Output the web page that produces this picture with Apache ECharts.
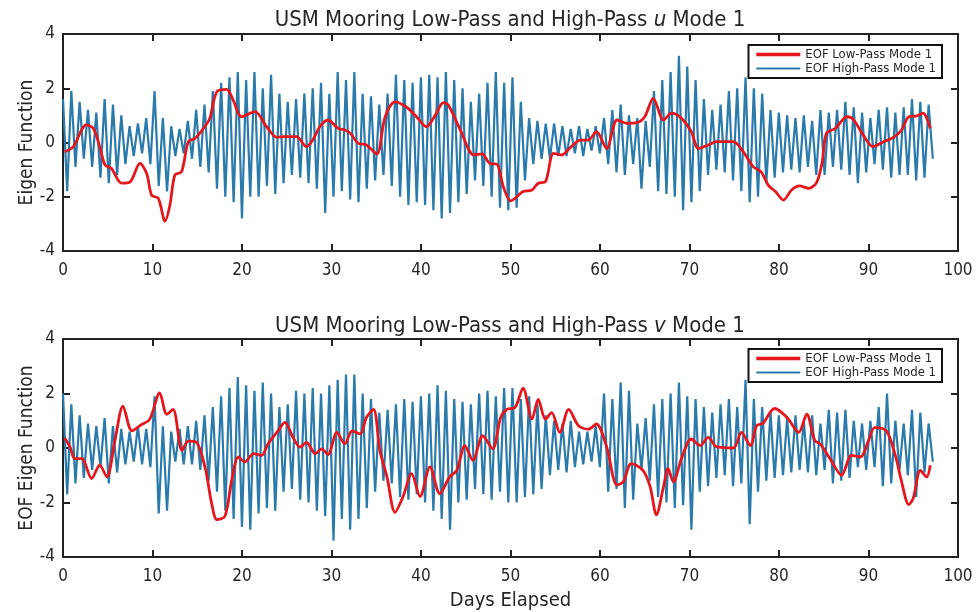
<!DOCTYPE html>
<html>
<head>
<meta charset="utf-8">
<script src="https://cdn.jsdelivr.net/npm/echarts/dist/echarts.min.js"></script>
<style>html,body{margin:0;padding:0;background:#fff}#c{width:976px;height:612px}</style>
</head>
<body>
<div id="c"></div>
<script>
// ---------- DATA ----------
const xTicks = [0,10,20,30,40,50,60,70,80,90,100];
const yTicks = [-4,-2,0,2,4];
const seriesNames = ['EOF Low-Pass Mode 1','EOF High-Pass Mode 1'];

// Low-pass u (days, values)
const uLowDays = [0.2,1.15,2.6,3.4,4.1,4.7,5.4,6.55,7.5,8.6,9.35,9.9,10.65,11.4,11.95,12.5,13.25,14.0,14.75,15.7,16.4,17.2,18.3,19.0,19.96,21.45,22.75,23.9,24.7,26.1,27.2,27.9,28.7,29.6,30.76,31.5,32.1,33.0,33.9,35.05,36.0,37.1,38.4,39.5,40.6,41.6,42.5,43.05,44.4,45.9,46.8,47.7,48.5,49.2,50.0,50.5,51.4,52.4,53.1,53.9,54.8,55.7,56.6,57.8,58.7,59.6,60.75,61.9,63.0,64.1,65.0,65.95,67.1,68.0,69.1,70.2,71.0,72.1,73.0,74.9,76.0,77.1,78.0,78.8,79.6,80.5,81.4,82.3,83.3,84.2,84.8,85.3,86.3,87.6,88.3,89.4,90.5,91.7,92.8,93.7,94.5,95.4,96.1,96.9];
const uLowVals = [-0.34,-0.15,0.65,0.52,-0.15,-0.83,-0.95,-1.5,-1.45,-0.77,-1.14,-1.94,-2.06,-2.9,-2.3,-1.2,-1.08,0.03,0.15,0.52,0.89,1.88,1.96,1.57,0.95,1.14,0.58,0.19,0.22,0.22,-0.15,0.09,0.58,0.83,0.52,0.46,0.34,-0.03,-0.09,-0.42,0.95,1.5,1.3,0.95,0.58,1.01,1.47,1.38,0.46,-0.46,-0.42,-0.77,-0.8,-1.63,-2.15,-2.06,-1.81,-1.75,-1.5,-1.45,-0.4,-0.46,-0.22,0.09,0.09,0.4,-0.22,0.83,0.71,0.73,0.95,1.63,0.83,1.08,0.89,0.4,-0.22,-0.09,0.03,0.03,-0.34,-0.89,-1.08,-1.57,-1.81,-2.12,-1.75,-1.6,-1.69,-1.48,-0.77,0.34,0.52,0.95,0.85,0.28,-0.15,0.03,0.19,0.46,0.95,0.98,1.08,0.52];

// High-pass u: alternating peak / trough samples, one half-period apart (period ~0.93 day)
const hpStep = 0.465;
const uHigh = [
1.6,-1.8, 1.9,-0.9, 1.5,-0.6, 1.2,-0.9, 1.1,-1.3, 1.6,-1.5, 1.4,-1.2, 1.0,-0.8, 0.6,-0.5, 0.7,-0.4,
0.9,-0.8, 1.9,-1.6, 0.9,-1.8, 0.6,-0.5, 0.5,-0.4, 0.8,-0.6, 1.2,-0.9, 1.4,-1.1, 1.9,-1.7, 2.2,-2.0,
2.4,-2.2, 2.6,-2.8, 2.3,-2.0, 2.6,-2.0, 2.0,-1.6, 2.5,-1.9, 1.8,-1.5, 1.5,-1.2, 1.6,-1.3, 1.8,-1.5,
2.0,-1.7, 2.2,-2.6, 1.8,-2.0, 2.6,-1.8, 2.3,-2.1, 2.6,-2.2, 1.8,-1.7, 1.7,-1.4, 1.4,-1.2, 1.8,-1.6,
2.5,-2.0, 2.3,-2.3, 2.2,-2.2, 2.4,-2.3, 2.5,-2.5, 2.4,-2.8, 2.6,-2.6, 2.3,-2.2, 2.0,-1.9, 1.5,-1.4,
1.8,-1.6, 2.2,-2.0, 2.6,-2.4, 2.2,-2.5, 2.4,-2.4, 1.5,-1.4, 0.9,-0.8, 0.8,-0.6, 0.7,-0.6, 0.7,-0.5,
0.6,-0.5, 0.5,-0.4, 0.6,-0.5, 0.5,-0.3, 0.6,-0.4, 0.9,-0.8, 1.2,-1.1, 1.4,-1.2, 1.0,-0.8, 0.9,-1.7,
0.8,-0.9, 1.9,-1.8, 2.3,-1.9, 2.6,-2.0, 3.2,-2.5, 2.8,-2.2, 2.3,-1.8, 1.6,-1.2, 1.2,-1.0, 1.4,-1.1,
1.9,-1.4, 2.0,-1.8, 2.4,-2.2, 2.0,-2.0, 1.8,-1.5, 1.2,-1.3, 1.1,-1.1, 1.0,-1.0, 0.9,-1.1, 1.0,-0.9,
0.8,-1.2, 1.2,-1.2, 1.1,-0.9, 1.2,-1.0, 1.5,-1.2, 1.3,-1.5, 1.1,-1.1, 0.9,-0.8, 1.2,-1.0, 1.3,-1.3,
1.1,-1.2, 1.3,-1.2, 1.6,-1.4, 1.5,-1.3, 1.4,-0.6];

// Low-pass v
const vLowDays = [0.2,0.8,1.3,2.1,3.2,4.1,4.9,5.8,6.7,7.7,8.6,9.7,10.8,11.6,12.3,13.3,14.0,14.9,15.9,16.6,17.2,18.1,18.85,19.6,20.3,21.3,22.2,22.9,23.9,24.8,25.7,26.5,27.2,28.2,28.9,29.6,30.6,31.5,32.3,33.2,33.9,34.7,35.4,36.2,37.1,38.0,38.95,39.9,41.0,42.1,43.2,44.0,44.9,45.8,46.9,48.0,48.9,49.6,50.5,51.4,52.4,53.1,53.9,54.6,55.5,56.5,57.6,58.7,59.6,60.75,61.9,62.6,63.5,64.8,65.6,66.3,67.1,67.6,68.2,69.1,70.2,71.2,72.1,73.0,74.9,75.8,76.8,77.5,78.2,79.5,80.9,82.2,83.1,84.0,84.6,85.7,87.0,88.1,89.1,90.0,90.7,92.0,93.0,93.7,94.5,95.0,95.8,96.5,96.9];
const vLowVals = [0.37,0.03,-0.39,-0.39,-1.12,-0.63,-1.06,0.27,1.54,0.63,0.82,1.06,2.02,1.24,1.42,-0.09,0.25,0.21,-0.75,-2.02,-2.63,-2.5,-1.18,-0.33,-0.51,-0.21,-0.27,0.15,0.57,0.94,0.39,0.03,0.21,-0.21,-0.03,-0.24,0.57,0.15,0.63,0.51,1.12,1.42,-0.09,-1.06,-2.36,-1.78,-0.94,-1.78,-0.69,-1.68,-1.06,-0.82,0.09,-0.45,0.45,-0.03,1.12,1.42,1.48,2.2,1.06,1.78,1.06,1.3,0.57,1.42,0.82,0.69,0.88,0.03,-1.36,-1.24,-0.57,-0.82,-1.42,-2.45,-1.42,-0.75,-1.24,-0.39,0.33,0.09,0.39,0.05,0.0,0.57,0.09,0.82,0.9,1.45,1.12,0.57,1.24,0.27,0.15,-0.39,-1.0,-0.27,-0.33,0.27,0.75,0.63,-0.27,-1.24,-2.08,-1.84,-0.82,-1.06,-0.63];

// High-pass v
const vHigh = [
2.0,-1.7, 1.6,-1.3, 1.2,-1.1, 0.9,-0.8, 0.8,-0.7, 1.1,-1.3, 0.8,-0.9, 0.7,-0.6, 0.6,-0.5, 0.8,-0.6,
0.7,-0.7, 1.9,-2.4, 0.8,-2.3, 0.6,-0.5, 0.7,-0.6, 0.8,-0.6, 1.0,-0.8, 1.2,-1.2, 1.5,-1.6, 1.9,-2.3,
2.2,-2.6, 2.6,-2.9, 2.3,-3.0, 2.1,-2.4, 2.4,-2.2, 2.0,-2.3, 1.5,-1.6, 1.6,-1.5, 2.1,-1.9, 2.0,-2.0,
2.2,-2.3, 2.0,-2.5, 2.3,-3.4, 2.5,-2.6, 2.7,-3.0, 2.7,-2.6, 2.0,-2.2, 1.8,-1.6, 1.3,-1.2, 1.4,-1.3,
1.6,-1.8, 1.8,-1.9, 1.7,-1.7, 1.9,-2.0, 2.0,-2.3, 2.3,-2.6, 2.1,-3.0, 1.8,-2.0, 1.7,-1.9, 1.6,-1.5,
2.0,-1.7, 2.1,-1.9, 1.9,-1.6, 2.2,-2.0, 2.2,-2.0, 1.8,-1.8, 1.9,-1.7, 1.6,-1.5, 1.2,-1.0, 1.0,-0.8,
0.9,-0.9, 1.0,-0.7, 0.6,-0.6, 0.6,-0.5, 0.8,-0.7, 2.0,-1.6, 1.8,-1.5, 2.4,-2.2, 2.1,-1.9, 0.9,-0.8,
1.1,-1.2, 1.6,-1.8, 1.8,-2.0, 2.0,-2.2, 2.4,-2.1, 1.9,-3.0, 1.8,-1.6, 1.5,-1.4, 1.3,-1.1, 1.6,-1.0,
1.8,-1.4, 1.5,-1.3, 2.5,-2.8, 1.8,-1.6, 1.5,-1.2, 1.3,-1.1, 1.2,-1.0, 1.1,-0.9, 1.2,-0.8, 1.0,-0.9,
1.2,-1.0, 0.9,-0.8, 1.4,-1.3, 1.3,-1.2, 1.4,-1.1, 1.0,-0.7, 0.9,-0.8, 1.0,-0.7, 1.5,-1.4, 2.0,-1.3,
1.0,-0.8, 0.9,-1.0, 1.4,-1.8, 1.3,-0.9, 0.9,-0.5];

// ---------- CHART ----------
const FONT = '"DejaVu Sans Condensed","Liberation Sans Narrow","DejaVu Sans",sans-serif';
const TXT = '#262626';
const RED = '#e3171d';
const BLUE = '#2a7aab';

function pairs(xs, ys){ return ys.map((v,i)=>[xs[i], v]); }
function hpPairs(ys){ return ys.map((v,i)=>[i*hpStep, v]); }

const grids = [
  {left:63, width:895, top:34, height:217},
  {left:63, width:895, top:339, height:218}
];

function xAx(gi, pos, showLab, name){
  return {
    type:'value', gridIndex:gi, position:pos, min:xTicks[0], max:xTicks[xTicks.length-1], interval:10,
    name: name || '', nameLocation:'middle', nameGap:34,
    nameTextStyle:{fontFamily:FONT, fontSize:20, color:TXT},
    axisLine:{show:true, onZero:false, lineStyle:{color:'#222', width:2}},
    axisTick:{show:true, inside:true, length:7, lineStyle:{color:'#222', width:2}},
    axisLabel:{show:showLab, fontFamily:FONT, fontSize:17, color:TXT, margin:11},
    splitLine:{show:false}
  };
}
function yAx(gi, pos, showLab, name){
  return {
    type:'value', gridIndex:gi, position:pos, min:yTicks[0], max:yTicks[yTicks.length-1], interval:2,
    name: name || '', nameLocation:'middle', nameGap:26, nameMoveOverlap:false,
    nameTextStyle:{fontFamily:FONT, fontSize:19, color:TXT},
    axisLine:{show:true, onZero:false, lineStyle:{color:'#222', width:2}},
    axisTick:{show:true, inside:true, length:7, lineStyle:{color:'#222', width:2}},
    axisLabel:{show:showLab, fontFamily:FONT, fontSize:17, color:TXT, margin:8},
    splitLine:{show:false}
  };
}

function legend(top){
  return {
    right:34, top:top, orient:'vertical',
    data:[{name:seriesNames[0], lineStyle:{width:3.6}}, {name:seriesNames[1], lineStyle:{width:2.2}}],
    itemStyle:{opacity:0},
    backgroundColor:'#fff', borderColor:'#111', borderWidth:2, borderRadius:0,
    padding:[3,6,3,6], itemGap:1, itemWidth:44, itemHeight:14,
    textStyle:{fontFamily:FONT, fontSize:13, color:TXT}
  };
}

const titleStyle = {fontFamily:FONT, fontSize:22, fontWeight:'normal', color:TXT,
  rich:{i:{fontStyle:'italic', fontFamily:FONT, fontSize:22, color:TXT}}};

const option = {
  animation:false,
  backgroundColor:'#fff',
  title:[
    {text:'USM Mooring Low-Pass and High-Pass {i|u} Mode 1', left:505, textAlign:'center', top:4, textStyle:titleStyle},
    {text:'USM Mooring Low-Pass and High-Pass {i|v} Mode 1', left:505, textAlign:'center', top:310, textStyle:titleStyle}
  ],
  legend:[legend(45), legend(349)],
  grid:grids,
  xAxis:[xAx(0,'bottom',true), xAx(0,'top',false), xAx(1,'bottom',true,'Days Elapsed'), xAx(1,'top',false)],
  yAxis:[yAx(0,'left',true,'Eigen Function'), yAx(0,'right',false), yAx(1,'left',true,'EOF Eigen Function'), yAx(1,'right',false)],
  series:[
    {name:seriesNames[1], type:'line', xAxisIndex:0, yAxisIndex:0, data:hpPairs(uHigh), symbol:'none', z:2,
     lineStyle:{color:BLUE, width:2.2}, itemStyle:{color:BLUE}},
    {name:seriesNames[0], type:'line', xAxisIndex:0, yAxisIndex:0, data:pairs(uLowDays,uLowVals), symbol:'none', smooth:0.3, z:3,
     lineStyle:{color:RED, width:2.8}, itemStyle:{color:RED}},
    {name:seriesNames[1], type:'line', xAxisIndex:2, yAxisIndex:2, data:hpPairs(vHigh), symbol:'none', z:2,
     lineStyle:{color:BLUE, width:2.2}, itemStyle:{color:BLUE}},
    {name:seriesNames[0], type:'line', xAxisIndex:2, yAxisIndex:2, data:pairs(vLowDays,vLowVals), symbol:'none', smooth:0.3, z:3,
     lineStyle:{color:RED, width:2.8}, itemStyle:{color:RED}}
  ]
};
const chart = echarts.init(document.getElementById('c'), null, {renderer:'canvas'});
chart.setOption(option);
</script>
</body>
</html>
